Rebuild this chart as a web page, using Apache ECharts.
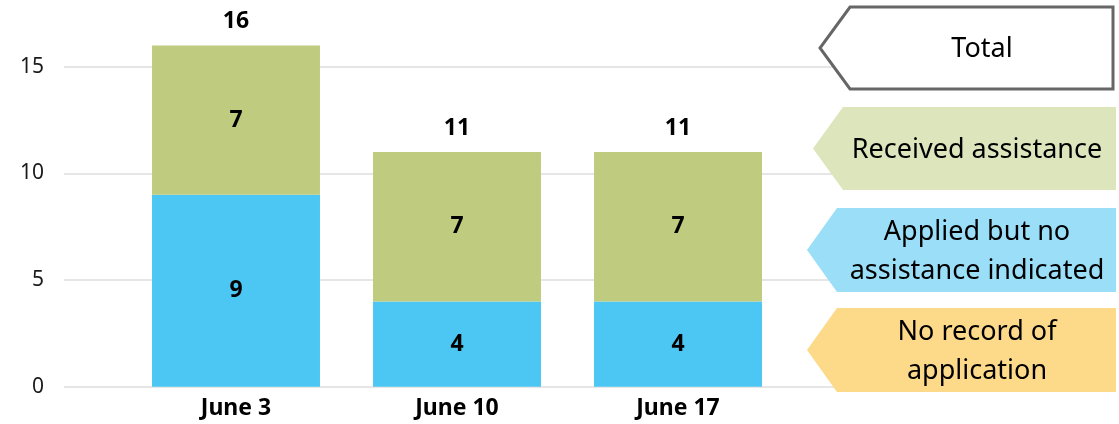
<!DOCTYPE html>
<html>
<head>
<meta charset="utf-8">
<script src="https://cdn.jsdelivr.net/npm/echarts@6/dist/echarts.min.js"></script>
<style>
html,body{margin:0;padding:0;background:#fff;}
#chart{width:1119px;height:424px;}
</style>
</head>
<body>
<div id="chart"></div>
<script>
const categories = ['June 3', 'June 10', 'June 17'];
const noRecord = [0, 0, 0];
const appliedNoAssist = [9, 4, 4];
const receivedAssist = [7, 7, 7];
const totals = [16, 11, 11];
const yTicks = [0, 5, 10, 15];
const seriesNames = ['No record of application', 'Applied but no assistance indicated', 'Received assistance', 'Total'];
const legendLabels = ['Total', 'Received assistance', 'Applied but no\nassistance indicated', 'No record of\napplication'];

const FONT = 'Noto Sans';
const colors = { noRecord: '#FDD98A', applied: '#4CC6F2', received: '#BFCB7E' };
const legendFills = ['#FFFFFF', '#DDE5BD', '#9ADEF8', '#FDD98A'];

const chart = echarts.init(document.getElementById('chart'));

const gridTop = 45.4, gridBottom = 37.3;

const valueLabel = {
  show: true, position: 'inside', color: '#000', fontFamily: FONT,
  fontWeight: 'bold', fontSize: 23
};

// legend shapes (decoration)
const legendBoxes = [
  { pts: [[850,7],[1113,7],[1113,89],[850,89],[820,48]], cy: 49, stroke: '#666666' },
  { pts: [[843,107],[1116,107],[1116,190],[843,190],[813,148.5]], cy: 150 },
  { pts: [[837,208],[1116,208],[1116,292],[837,292],[807,250]], cy: 252 },
  { pts: [[837,308],[1116,308],[1116,392],[837,392],[807,350]], cy: 352 }
];
const graphics = [];
legendBoxes.forEach((b, i) => {
  graphics.push({
    type: 'polygon', shape: { points: b.pts }, z: 10,
    style: { fill: legendFills[i], stroke: b.stroke || null, lineWidth: b.stroke ? 3 : 0 }
  });
  graphics.push({
    type: 'text', x: i === 0 ? 982 : 977, y: b.cy, z: 11,
    style: {
      text: legendLabels[i], fill: '#000', font: '27px "' + FONT + '"',
      textAlign: 'center', textVerticalAlign: 'middle', lineHeight: 39
    }
  });
});

chart.setOption({
  animation: false,
  grid: [
    { left: 64, right: 261, top: gridTop, bottom: gridBottom },
    { left: 125.5, width: 663, top: gridTop, bottom: gridBottom }
  ],
  xAxis: [
    { gridIndex: 0, type: 'category', data: categories, show: false },
    {
      gridIndex: 1, type: 'category', data: categories,
      axisLine: { show: false }, axisTick: { show: false },
      axisLabel: { color: '#000', fontFamily: FONT, fontWeight: 'bold', fontSize: 23, margin: 10 }
    }
  ],
  yAxis: [
    {
      gridIndex: 0, type: 'value', min: 0, max: 16, interval: 5,
      axisLine: { show: false }, axisTick: { show: false },
      axisLabel: {
        color: '#1a1a1a', fontFamily: FONT, fontSize: 21, margin: 20, showMaxLabel: false,
        formatter: v => (yTicks.indexOf(v) >= 0 ? String(v) : '')
      },
      splitLine: { showMaxLine: false, lineStyle: { color: '#E6E6E6', width: 2 } }
    },
    { gridIndex: 1, type: 'value', min: 0, max: 16, interval: 5, show: false, splitLine: { show: false } }
  ],
  series: [
    {
      name: seriesNames[0], type: 'bar', stack: 's', xAxisIndex: 1, yAxisIndex: 1,
      data: noRecord, barCategoryGap: '24%', itemStyle: { color: colors.noRecord },
      label: { show: false }
    },
    {
      name: seriesNames[1], type: 'bar', stack: 's', xAxisIndex: 1, yAxisIndex: 1,
      data: appliedNoAssist, barCategoryGap: '24%', itemStyle: { color: colors.applied },
      label: valueLabel
    },
    {
      name: seriesNames[2], type: 'bar', stack: 's', xAxisIndex: 1, yAxisIndex: 1,
      data: receivedAssist, barCategoryGap: '24%', itemStyle: { color: colors.received },
      label: valueLabel
    },
    {
      name: seriesNames[3], type: 'line', xAxisIndex: 1, yAxisIndex: 1,
      data: totals, symbol: 'circle', symbolSize: 2, showSymbol: true,
      lineStyle: { width: 0, opacity: 0 }, itemStyle: { color: '#ffffff', opacity: 0 },
      label: {
        show: true, position: 'top', distance: 11, color: '#000', opacity: 1, fontFamily: FONT,
        fontWeight: 'bold', fontSize: 23
      }
    }
  ],
  graphic: graphics
});
</script>
</body>
</html>
